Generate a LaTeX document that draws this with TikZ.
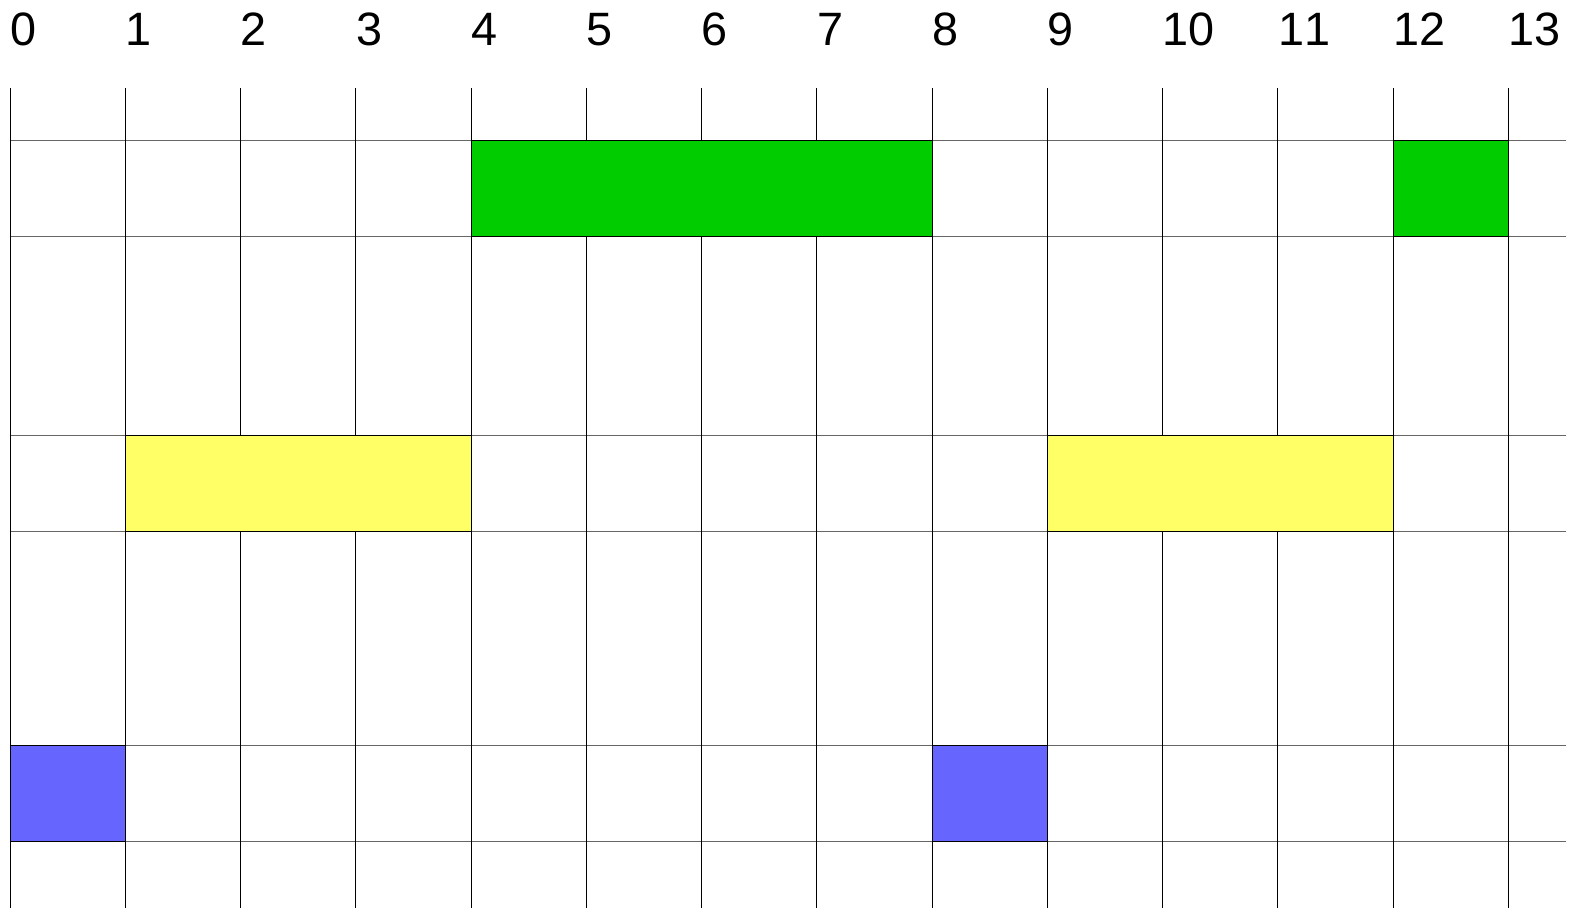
\documentclass[tikz,border=0pt]{standalone}
\usepackage{fontspec}
\setmainfont{Liberation Sans}[Kerning=Off]
\usetikzlibrary{positioning}
\definecolor{slotgreen}{HTML}{00CC00}
\definecolor{slotyellow}{HTML}{FFFF66}
\definecolor{slotblue}{HTML}{6666FF}

\begin{document}
\begin{tikzpicture}[
  x=0.5pt,y=-0.5pt,
  tick/.style={anchor=base west,inner sep=0pt,font=\fontsize{23.4}{28}\selectfont},
  vline/.style={black,line width=0.5pt},
  hline/.style={black!60,line width=0.5pt},
  slot/.style={draw=black,line width=0.5pt}
]
\useasboundingbox (0,0) rectangle (1577,908);

% horizontal lines
\foreach \yy in {140.7,236.7,435.5,531,745.7,841.7}
  \draw[hline] (10,\yy) -- (1565.7,\yy);

% column labels and vertical lines
\foreach \i in {0,...,13}{
  \pgfmathsetmacro{\xx}{10+115.25*\i}
  \node[tick] (lbl\i) at (\xx,45.5) {\i};
  \draw[vline] (\xx,88.3) -- (\xx,908);
}

% slots
\filldraw[slot,fill=slotgreen] ({10+115.25*4},140.7) rectangle ({10+115.25*8},236.7);
\filldraw[slot,fill=slotgreen] ({10+115.25*12},140.7) rectangle ({10+115.25*13},236.7);
\filldraw[slot,fill=slotyellow] ({10+115.25*1},435.5) rectangle ({10+115.25*4},531);
\filldraw[slot,fill=slotyellow] ({10+115.25*9},435.5) rectangle ({10+115.25*12},531);
\filldraw[slot,fill=slotblue] ({10+115.25*0},745.7) rectangle ({10+115.25*1},841.7);
\filldraw[slot,fill=slotblue] ({10+115.25*8},745.7) rectangle ({10+115.25*9},841.7);
\end{tikzpicture}
\end{document}
